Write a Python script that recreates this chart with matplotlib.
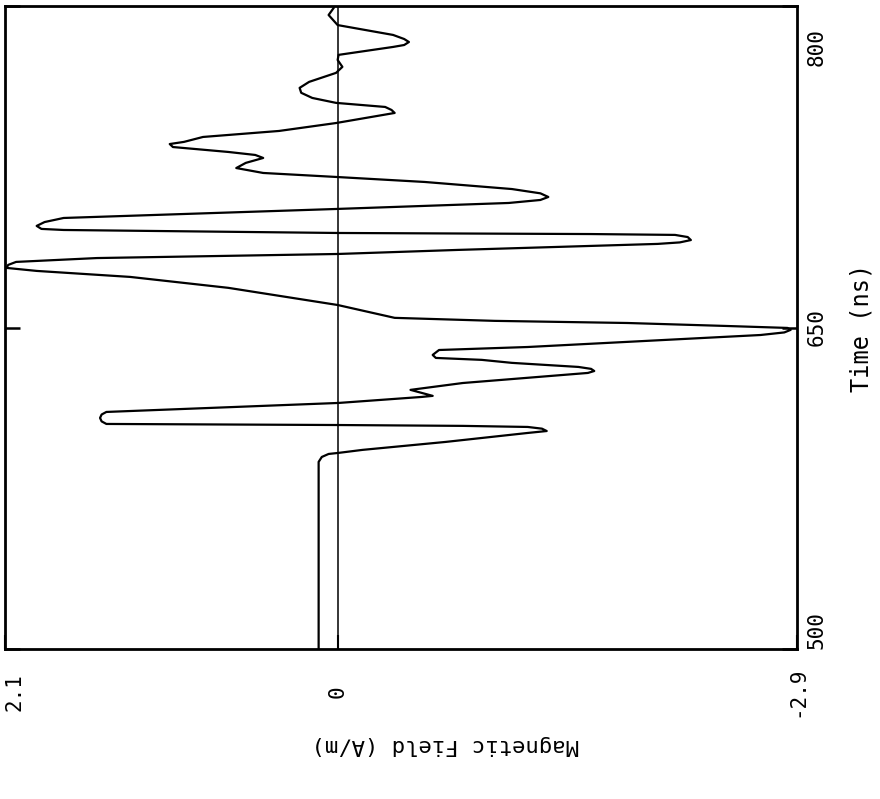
import numpy as np
import matplotlib.pyplot as plt
from matplotlib.transforms import ScaledTranslation

# trace: time (ns) and magnetic field (A/m)
time_ns = [500.0, 587.3, 589.6, 591.0, 591.5, 592.9, 596.6, 600.8, 601.7, 602.8,
           603.6, 604.1, 604.5, 605.0, 606.2, 607.8, 609.4, 610.6, 614.8, 617.6,
           618.1, 620.9, 624.1, 628.8, 629.7, 630.7, 631.6, 633.5, 634.9, 635.8,
           637.2, 639.5, 640.9, 643.3, 646.5, 647.7, 648.9, 649.8, 650.7, 652.1,
           653.1, 654.5, 660.5, 668.5, 673.6, 676.4, 677.8, 679.2, 680.6, 682.4,
           684.3, 686.2, 689.0, 689.7, 690.8, 692.2, 693.2, 693.6, 694.1, 695.5,
           696.0, 697.4, 699.2, 701.1, 705.3, 708.1, 709.5, 710.9, 712.6, 714.6,
           717.9, 720.2, 722.1, 724.4, 726.8, 729.1, 730.5, 731.9, 734.2, 735.6,
           736.6, 738.9, 741.7, 745.4, 750.1, 751.5, 752.9, 754.8, 757.1, 759.5,
           761.8, 764.6, 768.8, 771.6, 774.8, 777.2, 780.9, 781.8, 783.2, 784.6,
           786.5, 791.1, 795.8, 799.1]
field = [0.12, 0.12, 0.10, 0.057, -0.006, -0.157, -0.68, -1.20, -1.32, -1.29,
         -1.20, -0.79, 0.0, 1.46, 1.49, 1.50, 1.49, 1.46, -0.006, -0.53,
         -0.60, -0.46, -0.79, -1.58, -1.62, -1.60, -1.52, -1.10, -0.91, -0.62,
         -0.60, -0.64, -1.20, -1.83, -2.67, -2.82, -2.86, -2.84, -2.46, -1.83,
         -0.99, -0.36, 0.0, 0.69, 1.31, 1.90, 2.09, 2.08, 2.03, 1.52,
         0.0, -0.76, -2.02, -2.16, -2.23, -2.21, -2.13, -1.60, 0.0, 1.73,
         1.87, 1.90, 1.85, 1.73, 0.01, -1.08, -1.28, -1.33, -1.28, -1.10,
         -0.55, 0.0, 0.47, 0.64, 0.58, 0.47, 0.52, 0.69, 1.04, 1.06,
         0.97, 0.85, 0.37, 0.01, -0.36, -0.34, -0.30, 0.01, 0.16, 0.23,
         0.24, 0.18, 0.01, -0.03, 0.0, -0.006, -0.35, -0.42, -0.45, -0.42,
         -0.35, 0.0, 0.057, 0.025]

field_ticks = [2.1, 0, -2.9]
field_labels = ['2.1', '0', '-2.9']
time_ticks = [500, 650, 800]
time_labels = ['500', '650', '800']

plt.rcParams['font.family'] = 'DejaVu Sans Mono'

fig = plt.figure(figsize=(8.8, 7.99), dpi=100)
ax = fig.add_axes([5 / 880, 1 - 649 / 799, 792 / 880, 643 / 799])

# plotted sideways: field across, time upwards
ax.plot(field, time_ns, color='black', lw=1.6, solid_joinstyle='round')
ax.axvline(0, color='black', lw=1.1)

ax.set_xlim(2.1, -2.9)
ax.set_ylim(500, 800)
for s in ax.spines.values():
    s.set_linewidth(2)

ax.set_xticks(field_ticks, labels=field_labels)
ax.set_yticks(time_ticks, labels=time_labels)
ax.tick_params(axis='x', direction='in', length=10, width=1.5, pad=31,
               labelsize=15, labelrotation=90)
ax.tick_params(axis='y', direction='in', length=11, width=1.8, pad=7,
               left=True, right=True, labelleft=False, labelright=True,
               labelsize=15, labelrotation=90)

for lbl in ax.get_xticklabels():
    lbl.set_va('center')
ax.get_xticklabels()[0].set_ha('left')

ylbls = ax.get_yticklabels()
for lbl in ylbls:
    lbl.set_ha('left')
ylbls[0].set_va('bottom')
ylbls[1].set_va('center')
ylbls[2].set_va('top')
ylbls[2].set_transform(ylbls[2].get_transform()
                       + ScaledTranslation(0, -0.22, fig.dpi_scale_trans))

ax.yaxis.set_label_position('right')
ax.set_ylabel('Time (ns)', fontsize=17)
ax.yaxis.label.set_va('center')
ax.yaxis.set_label_coords((862 - 5) / 792, 0.5)

ax.set_xlabel('Magnetic Field (A/m)', fontsize=16, rotation=180, va='center')
ax.xaxis.set_label_coords((445 - 5) / 792, (649 - 745) / 643)

plt.savefig('out.png', dpi=100)
